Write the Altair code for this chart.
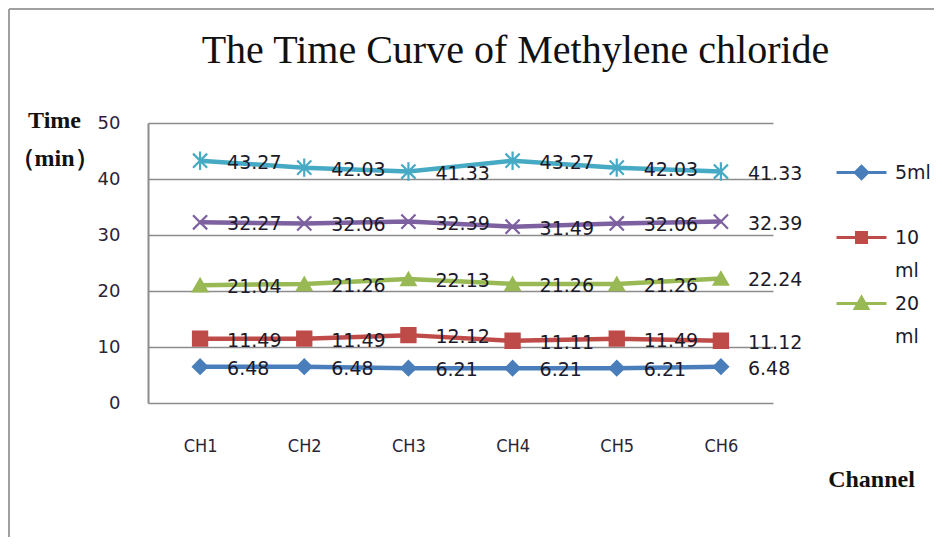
import altair as alt
import pandas as pd

channels = ["CH1", "CH2", "CH3", "CH4", "CH5", "CH6"]
series_names = ["5ml", "10 ml", "20 ml", "30 ml", "40 ml"]
s_5ml = [6.48, 6.48, 6.21, 6.21, 6.21, 6.48]
s_10ml = [11.49, 11.49, 12.12, 11.11, 11.49, 11.12]
s_20ml = [21.04, 21.26, 22.13, 21.26, 21.26, 22.24]
s_30ml = [32.27, 32.06, 32.39, 31.49, 32.06, 32.39]
s_40ml = [43.27, 42.03, 41.33, 43.27, 42.03, 41.33]
y_ticks = [0, 10, 20, 30, 40, 50]
legend_series = ["5ml", "10 ml", "20 ml"]

colors = ["#4A7EBB", "#BE4B48", "#98B954", "#7D60A0", "#46AAC5"]
point_shapes = [
    "diamond",
    "square",
    "triangle-up",
    "M-1,-1L1,1M-1,1L1,-1",
    "M-1,-1L1,1M-1,1L1,-1M0,-1.3L0,1.3",
]
legend_shapes = [
    "M-4,0H4M0,-1L1,0L0,1L-1,0Z",
    "M-4,0H4M-0.8,-0.8H0.8V0.8H-0.8Z",
    "M-4,0H4M0,-1L1,0.8L-1,0.8Z",
]

rows = []
for name, vals in zip(series_names, [s_5ml, s_10ml, s_20ml, s_30ml, s_40ml]):
    for ch, v in zip(channels, vals):
        rows.append({"series": name, "channel": ch, "value": v})
df = pd.DataFrame(rows)

x_enc = alt.X(
    "channel:N",
    sort=channels,
    scale=alt.Scale(type="point", padding=0.5),
    axis=alt.Axis(
        title="Channel",
        titleX=723,
        titleY=83,
        titleAlign="center",
        titleBaseline="alphabetic",
        titleFont="Liberation Serif",
        titleFontWeight="bold",
        titleFontSize=24,
        titleColor="#111111",
        labelAngle=0,
        labelPadding=34,
        labelFont="DejaVu Sans Condensed",
        labelFontSize=18,
        labelColor="#2a2535",
        domain=False,
        ticks=False,
        grid=False,
    ),
)
y_enc = alt.Y(
    "value:Q",
    scale=alt.Scale(domain=[0, 50]),
    axis=alt.Axis(
        values=y_ticks,
        title=["Time", "（min）"],
        titleAngle=0,
        titleX=-94,
        titleY=4,
        titleAlign="center",
        titleBaseline="alphabetic",
        titleFont="Liberation Serif",
        titleFontWeight="bold",
        titleFontSize=24,
        titleLineHeight=38,
        titleColor="#111111",
        labelPadding=28,
        labelFont="DejaVu Sans",
        labelFontSize=18,
        labelColor="#2a2535",
        domain=True,
        domainColor="#8c8c8c",
        domainWidth=2,
        ticks=False,
        grid=True,
        gridColor="#8c8c8c",
        gridWidth=1.6,
    ),
)

color_all = alt.Color("series:N", scale=alt.Scale(domain=series_names, range=colors), legend=None)
stroke_all = alt.Stroke("series:N", scale=alt.Scale(domain=series_names, range=colors), legend=None)
shape_all = alt.Shape("series:N", scale=alt.Scale(domain=series_names, range=point_shapes), legend=None)

base = alt.Chart(df)

lines = base.mark_line(strokeWidth=4.5).encode(x=x_enc, y=y_enc, color=color_all, detail="series:N")

points = base.mark_point(filled=True, opacity=1, strokeWidth=2.2, size=200).encode(
    x=x_enc, y=y_enc, color=color_all, stroke=stroke_all, shape=shape_all
)

labels = base.mark_text(
    align="left", baseline="middle", dx=27, dy=2, font="DejaVu Sans", fontSize=19, color="#1c1a2a"
).encode(x=x_enc, y=y_enc, text=alt.Text("value:Q", format=".2f"))

leg = alt.Legend(
    title=None,
    orient="none",
    legendX=704,
    legendY=40,
    direction="vertical",
    symbolSize=156,
    symbolStrokeWidth=3,
    symbolOpacity=1,
    labelFont="DejaVu Sans",
    labelFontSize=19,
    labelColor="#1c1a2a",
    labelOffset=24,
    labelLimit=200,
    rowPadding=10,
    labelExpr="datum.label == '10 ml' ? ['10', 'ml'] : datum.label == '20 ml' ? ['20', 'ml'] : [datum.label, ' ']",
)

legend_layer = (
    base.transform_filter(alt.FieldOneOfPredicate(field="series", oneOf=legend_series))
    .mark_point(filled=True, opacity=0)
    .encode(
        x=x_enc,
        y=y_enc,
        color=alt.Color("series:N", scale=alt.Scale(domain=legend_series, range=colors[:3]), legend=leg),
        stroke=alt.Stroke("series:N", scale=alt.Scale(domain=legend_series, range=colors[:3]), legend=leg),
        shape=alt.Shape("series:N", scale=alt.Scale(domain=legend_series, range=legend_shapes), legend=leg),
    )
)

# chart-area frame (left and top edges, as in the reference)
frame_src = alt.Chart(alt.Data(values=[{}]))
frame_left = frame_src.mark_rule(color="#a0a0a0", strokeWidth=2).encode(
    x=alt.value(-139), y=alt.value(-114), y2=alt.value(414)
)
frame_top = frame_src.mark_rule(color="#a0a0a0", strokeWidth=2).encode(
    x=alt.value(-139), x2=alt.value(786), y=alt.value(-114)
)

chart = (
    alt.layer(frame_left, frame_top, lines, points, labels, legend_layer)
    .resolve_scale(color="independent", stroke="independent", shape="independent")
    .properties(
        width=625,
        height=280,
        padding={"left": 140, "top": 115, "right": 161, "bottom": 134},
        autosize=alt.AutoSizeParams(type="none"),
        title=alt.TitleParams(
            "The Time Curve of Methylene chloride",
            font="Liberation Serif",
            fontSize=40,
            fontWeight="normal",
            color="#111111",
            anchor="middle",
            frame="group",
            dx=55,
            dy=39,
            baseline="alphabetic",
            offset=-56,
        ),
    )
    .configure(background="white", style={"guide-label": {"lineHeight": 33}})
    .configure_view(strokeWidth=0)
)

chart.save("out.html", embed_options={"renderer": "svg", "actions": False})
